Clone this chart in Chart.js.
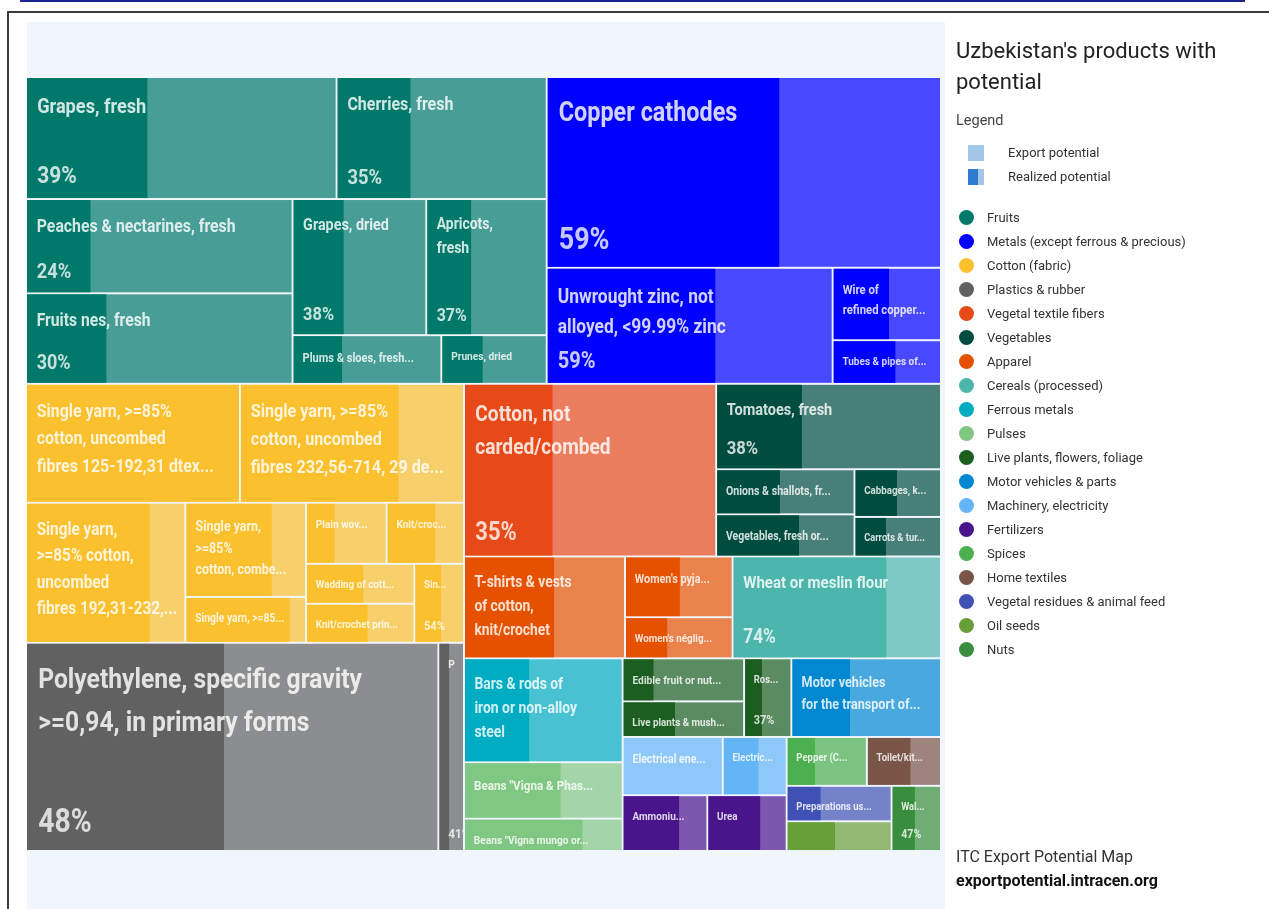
<!DOCTYPE html>
<html>
<head>
<meta charset="utf-8">
<script src="https://cdn.jsdelivr.net/npm/chart.js@4.4.1/dist/chart.umd.min.js"></script>
<style>
  html, body { margin: 0; padding: 0; background: #fff; }
  body { width: 1269px; height: 909px; position: relative; overflow: hidden; font-family: Roboto, "Noto Sans", sans-serif; }
  .topline { position: absolute; left: 20px; top: 0; width: 1225px; height: 2px; background: #1a2590; }
  .frame { position: absolute; left: 7px; top: 11px; width: 1290px; height: 940px; border-top: 2px solid #3a3a3a; border-left: 2px solid #3a3a3a; }
  .panel { position: absolute; left: 27px; top: 22px; width: 918px; height: 900px; background: #f1f5fc; }
  #chart { position: absolute; left: 0; top: 0; }
  .title { position: absolute; left: 956px; top: 35px; font-size: 22px; line-height: 31px; color: #222; }
  .legend-head { position: absolute; left: 956px; top: 112px; font-size: 14.5px; color: #444; }
  .key { position: absolute; left: 968px; width: 16px; height: 16px; }
  .key-text { position: absolute; left: 1008px; font-size: 13px; color: #333; line-height: 16px; }
  .cat { position: absolute; left: 959px; height: 16px; font-size: 13px; line-height: 16px; color: #333; white-space: nowrap; }
  .cat i { position: absolute; left: 0; top: 0; width: 15px; height: 15px; border-radius: 50%; }
  .cat span { position: absolute; left: 28px; top: 0; }
  .source { position: absolute; left: 956px; top: 845px; font-size: 16px; line-height: 24px; color: #333; }
  .source b { color: #111; }
</style>
</head>
<body>
<div class="topline"></div>
<div class="frame"></div>
<div class="panel"></div>
<canvas id="chart" width="1269" height="909"></canvas>
<div class="title">Uzbekistan's products with<br>potential</div>
<div class="legend-head">Legend</div>
<div class="key" style="top:145px;background:#a3c6e6"></div>
<div class="key-text" style="top:145px">Export potential</div>
<div class="key" style="top:169px;background:linear-gradient(90deg,#2f7bd0 0 62%,#a3c6e6 62% 100%)"></div>
<div class="key-text" style="top:169px">Realized potential</div>
<div id="cats"></div>
<div class="source">ITC Export Potential Map<br><b>exportpotential.intracen.org</b></div>

<script>
// product groups, in legend order
const categories = [
  "Fruits", "Metals (except ferrous & precious)", "Cotton (fabric)", "Plastics & rubber",
  "Vegetal textile fibers", "Vegetables", "Apparel", "Cereals (processed)", "Ferrous metals",
  "Pulses", "Live plants, flowers, foliage", "Motor vehicles & parts", "Machinery, electricity",
  "Fertilizers", "Spices", "Home textiles", "Vegetal residues & animal feed", "Oil seeds", "Nuts"
];
const categoryColors = [
  "#00796b", "#0000ff", "#fbc02d", "#616161", "#e64a19", "#004d40", "#e65100", "#4db6ac",
  "#00acc1", "#81c784", "#1b5e20", "#0288d1", "#64b5f6", "#4a148c", "#4caf50", "#795548",
  "#3f51b5", "#689f38", "#388e3c"
];

// products (label as shown in the cell)
const productNames = [
  "Grapes, fresh", "Cherries, fresh", "Peaches & nectarines, fresh", "Fruits nes, fresh",
  "Grapes, dried", "Apricots,\nfresh", "Plums & sloes, fresh...", "Prunes, dried",
  "Copper cathodes", "Unwrought zinc, not\nalloyed, <99.99% zinc", "Wire of\nrefined copper...", "Tubes & pipes of...",
  "Single yarn, >=85%\ncotton, uncombed\nfibres 125-192,31 dtex...",
  "Single yarn, >=85%\ncotton, uncombed\nfibres 232,56-714, 29 de...",
  "Single yarn,\n>=85% cotton,\nuncombed\nfibres 192,31-232,...",
  "Single yarn,\n>=85%\ncotton, combe...", "Single yarn, >=85...", "Plain wov...", "Knit/croc...",
  "Wadding of cott...", "Knit/crochet prin...", "Sin...",
  "Polyethylene, specific gravity\n>=0,94, in primary forms", "P",
  "Cotton, not\ncarded/combed",
  "Tomatoes, fresh", "Onions & shallots, fr...", "Vegetables, fresh or...", "Cabbages, k...", "Carrots & tur...",
  "T-shirts & vests\nof cotton,\nknit/crochet", "Women's pyja...", "Women's néglig...",
  "Wheat or meslin flour",
  "Bars & rods of\niron or non-alloy\nsteel",
  "Beans \"Vigna & Phas...", "Beans \"Vigna mungo or...",
  "Edible fruit or nut...", "Live plants & mush...", "Ros...",
  "Motor vehicles\nfor the transport of...",
  "Electrical ene...", "Electric...",
  "Ammoniu...", "Urea",
  "Pepper (C...", "Toilet/kit...", "Preparations us...", "", "Wal..."
];
const productCategory = [
  0, 0, 0, 0, 0, 0, 0, 0,
  1, 1, 1, 1,
  2, 2, 2, 2, 2, 2, 2, 2, 2, 2,
  3, 3,
  4,
  5, 5, 5, 5, 5,
  6, 6, 6,
  7,
  8,
  9, 9,
  10, 10, 10,
  11,
  12, 12,
  13, 13,
  14, 15, 16, 17, 18
];
// export potential (relative size of each cell)
const exportPotential = [
  377, 255, 250, 240, 181, 163, 72, 51,
  748, 330, 78, 47,
  253, 265, 222, 113, 55, 49, 47, 43, 42, 39,
  854, 53,
  433,
  191, 62, 58, 41, 34,
  163, 65, 44,
  211,
  164,
  89, 51,
  52, 43, 37,
  117,
  58, 37,
  47, 44,
  39, 36, 37, 31, 32
];
// realized potential, %
const realizedPct = [
  39, 35, 24, 30, 38, 37, 33, 39,
  59, 59, 52, 58,
  100, 71, 78, 72, 87, 35, 63, 53, 57, 54,
  48, 41,
  35,
  38, 46, 60, 49, 36,
  56, 51, 39,
  74,
  41,
  61, 75,
  25, 43, 37,
  39,
  0, 56,
  67, 67,
  35, 59, 32, 46, 47
];

// layout settings
const PLOT = { left: 26, top: 77, right: 941, bottom: 851 };
const STRETCH = 1.87;
const RATIO = 1.12;
const LAYOUT_W = 1000;
const LAYOUT_H = LAYOUT_W * (PLOT.bottom - PLOT.top) / (PLOT.right - PLOT.left) * STRETCH;
const GROUP_GAP = 0.75;
const CELL_GAP = 1;
const CONDENSE = 0.87;

// legend list
const catBox = document.getElementById("cats");
categories.forEach((c, i) => {
  const d = document.createElement("div");
  d.className = "cat";
  d.style.top = (210 + i * 24) + "px";
  d.innerHTML = '<i style="background:' + categoryColors[i] + '"></i><span></span>';
  d.querySelector("span").textContent = c;
  catBox.appendChild(d);
});

function squarify(items, x0, y0, x1, y1) {
  const out = [];
  const n = items.length;
  let value = items.reduce((s, d) => s + d.value, 0);
  let i0 = 0, i1 = 0;
  while (i0 < n) {
    const dx = x1 - x0, dy = y1 - y0;
    let sum = items[i1++].value;
    let minV = sum, maxV = sum;
    const alpha = Math.max(dy / dx, dx / dy) / (value * RATIO);
    let beta = sum * sum * alpha;
    let minRatio = Math.max(maxV / beta, beta / minV);
    for (; i1 < n; ++i1) {
      const v = items[i1].value;
      sum += v;
      if (v < minV) minV = v;
      if (v > maxV) maxV = v;
      beta = sum * sum * alpha;
      const r = Math.max(maxV / beta, beta / minV);
      if (r > minRatio) { sum -= v; break; }
      minRatio = r;
    }
    const row = items.slice(i0, i1);
    if (dx < dy) {
      const h = dy * sum / value;
      let x = x0;
      row.forEach(d => {
        const w = dx * d.value / sum;
        out.push(Object.assign({}, d, { x0: x, y0: y0, x1: x + w, y1: y0 + h }));
        x += w;
      });
      y0 += h;
    } else {
      const w = dx * sum / value;
      let y = y0;
      row.forEach(d => {
        const h = dy * d.value / sum;
        out.push(Object.assign({}, d, { x0: x0, y0: y, x1: x0 + w, y1: y + h }));
        y += h;
      });
      x0 += w;
    }
    value -= sum;
    i0 = i1;
  }
  return out;
}

function fade(hex) {
  const r = parseInt(hex.slice(1, 3), 16), g = parseInt(hex.slice(3, 5), 16), b = parseInt(hex.slice(5, 7), 16);
  return "rgba(" + r + "," + g + "," + b + ",0.7)";
}

function toPixels(c, xs, ys, gap) {
  return {
    x0: xs.getPixelForValue(c.x0) + gap, x1: xs.getPixelForValue(c.x1) - gap,
    y0: ys.getPixelForValue(c.y0) + gap, y1: ys.getPixelForValue(c.y1) - gap
  };
}

function squeezedText(ctx, text, x, y) {
  ctx.save();
  ctx.translate(x, y);
  ctx.scale(CONDENSE, 1);
  ctx.fillText(text, 0, 0);
  ctx.restore();
}

function drawCell(ctx, r, i) {
  const w = r.x1 - r.x0, h = r.y1 - r.y0;
  if (w <= 0 || h <= 0) return;
  const base = categoryColors[productCategory[i]];
  ctx.fillStyle = fade(base);
  ctx.fillRect(r.x0, r.y0, w, h);
  ctx.fillStyle = base;
  ctx.fillRect(r.x0, r.y0, w * Math.min(1, realizedPct[i] / 100), h);

  const name = productNames[i];
  if (!name) return;
  const fs = Math.min(29, 6.5 + 0.075 * Math.sqrt(w * h));
  const pfs = fs * 1.15;
  const lines = name.split("\n");
  const lh = fs * 1.5;
  const topPad = fs * 0.5 + 10;
  const botPad = fs * 0.35 + 8;
  const left = r.x0 + 0.15 * fs + 7;

  ctx.save();
  ctx.beginPath();
  ctx.rect(r.x0, r.y0, w, h);
  ctx.clip();
  ctx.textBaseline = "alphabetic";
  ctx.fillStyle = "rgba(255,255,255,0.82)";
  ctx.font = "bold " + fs.toFixed(1) + "px Roboto, 'Noto Sans', sans-serif";
  const y = r.y0 + topPad + 0.71 * fs;
  lines.forEach((ln, k) => squeezedText(ctx, ln, left, y + k * lh));
  const nameBottom = y + (lines.length - 1) * lh - r.y0;
  if (h - nameBottom >= 24 + 1.2 * fs) {
    ctx.fillStyle = "rgba(255,255,255,0.78)";
    ctx.font = "bold " + pfs.toFixed(1) + "px Roboto, 'Noto Sans', sans-serif";
    squeezedText(ctx, realizedPct[i] + "%", left, r.y1 - botPad);
  }
  ctx.restore();
}

const treemapPlugin = {
  id: "treemap",
  afterDatasetsDraw(chart) {
    const ctx = chart.ctx;
    const xs = chart.scales.x, ys = chart.scales.y;
    const groups = categories.map((c, ci) => ({ ci: ci, value: 0, items: [] }));
    exportPotential.forEach((v, i) => {
      const g = groups[productCategory[i]];
      g.items.push({ i: i, value: v });
      g.value += v;
    });
    const groupRects = squarify(groups, 0, 0, LAYOUT_W, LAYOUT_H);
    groupRects.forEach(g => {
      const gp = toPixels(g, xs, ys, GROUP_GAP);
      squarify(g.items, g.x0, g.y0, g.x1, g.y1).forEach(c => {
        const p = toPixels(c, xs, ys, CELL_GAP);
        const r = {
          x0: Math.max(p.x0, gp.x0), x1: Math.min(p.x1, gp.x1),
          y0: Math.max(p.y0, gp.y0), y1: Math.min(p.y1, gp.y1)
        };
        drawCell(ctx, r, c.i);
      });
    });
  }
};

function build() {
  new Chart(document.getElementById("chart"), {
    type: "scatter",
    data: {
      datasets: categories.map((c, i) => ({ label: c, data: [], backgroundColor: categoryColors[i] }))
    },
    options: {
      responsive: false,
      animation: false,
      devicePixelRatio: 1,
      layout: {
        padding: { left: PLOT.left, top: PLOT.top, right: 1269 - PLOT.right, bottom: 909 - PLOT.bottom }
      },
      plugins: { legend: { display: false }, tooltip: { enabled: false } },
      scales: {
        x: { type: "linear", min: 0, max: LAYOUT_W, display: false },
        y: { type: "linear", min: 0, max: LAYOUT_H, reverse: true, display: false }
      }
    },
    plugins: [treemapPlugin]
  });
}

if (document.fonts && document.fonts.load) {
  Promise.all([
    document.fonts.load("bold 16px Roboto"),
    document.fonts.load("16px Roboto")
  ]).then(build, build);
} else {
  build();
}
</script>
</body>
</html>
